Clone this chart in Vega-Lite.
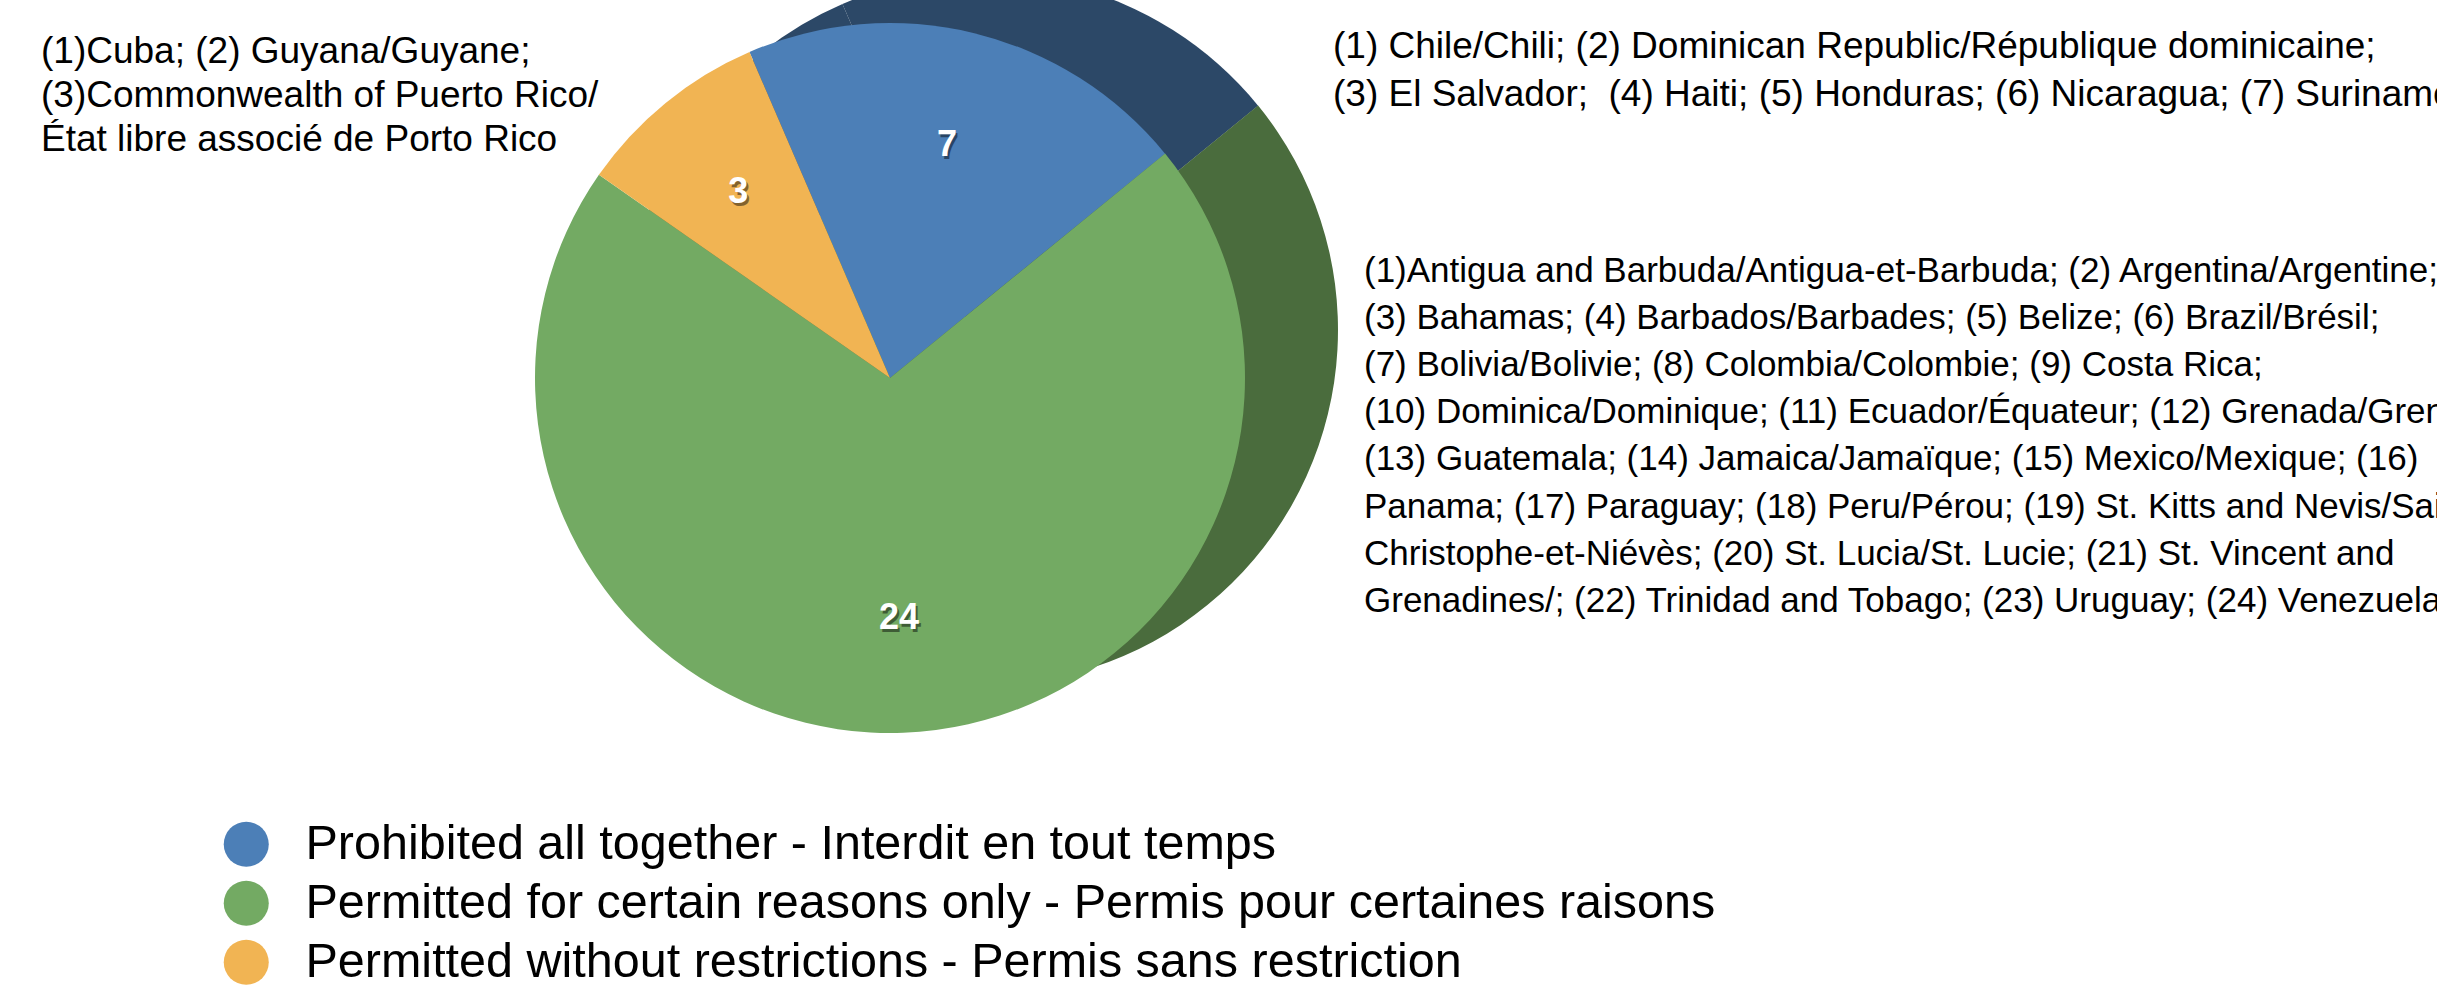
{
  "$schema": "https://vega.github.io/schema/vega-lite/v6.json",
  "background": "white",
  "padding": {"left": 41, "top": 0, "right": 0, "bottom": 0},
  "bounds": "flush",
  "spacing": 0,
  "config": {"view": {"stroke": null}, "font": "Liberation Sans"},
  "datasets": {
    "pie": [
      {"category": "Prohibited all together - Interdit en tout temps", "count": 7},
      {"category": "Permitted for certain reasons only - Permis pour certaines raisons", "count": 24},
      {"category": "Permitted without restrictions - Permis sans restriction", "count": 3}
    ],
    "left": [
      {"block": "left", "line": 0, "text": "(1)Cuba; (2) Guyana/Guyane;"},
      {"block": "left", "line": 1, "text": "(3)Commonwealth of Puerto Rico/"},
      {"block": "left", "line": 2, "text": "État libre associé de Porto Rico"}
    ],
    "topright": [
      {"block": "right", "line": 0, "text": "(1) Chile/Chili; (2) Dominican Republic/République dominicaine;"},
      {"block": "right", "line": 1, "text": "(3) El Salvador;\u00a0 (4) Haiti; (5) Honduras; (6) Nicaragua; (7) Suriname."}
    ],
    "midright": [
      {"block": "right", "line": 0, "text": "(1)Antigua and Barbuda/Antigua-et-Barbuda; (2) Argentina/Argentine;"},
      {"block": "right", "line": 1, "text": "(3) Bahamas; (4) Barbados/Barbades; (5) Belize; (6) Brazil/Brésil;"},
      {"block": "right", "line": 2, "text": "(7) Bolivia/Bolivie; (8) Colombia/Colombie; (9) Costa Rica;"},
      {"block": "right", "line": 3, "text": "(10) Dominica/Dominique; (11) Ecuador/Équateur; (12) Grenada/Grenade;"},
      {"block": "right", "line": 4, "text": "(13) Guatemala; (14) Jamaica/Jamaïque; (15) Mexico/Mexique; (16)"},
      {"block": "right", "line": 5, "text": "Panama; (17) Paraguay; (18) Peru/Pérou; (19) St. Kitts and Nevis/Saint-"},
      {"block": "right", "line": 6, "text": "Christophe-et-Niévès; (20) St. Lucia/St. Lucie; (21) St. Vincent and"},
      {"block": "right", "line": 7, "text": "Grenadines/; (22) Trinidad and Tobago; (23) Uruguay; (24) Venezuela."}
    ]
  },
  "hconcat": [
    {
      "width": 389,
      "height": 756,
      "data": {"name": "left"},
      "mark": {"type": "text", "align": "left", "baseline": "middle", "fontSize": 37, "font": "Liberation Sans", "color": "#000000"},
      "encoding": {
        "x": {"field": "block", "type": "nominal", "scale": {"type": "point", "padding": 0, "align": 0}, "axis": null},
        "y": {"field": "line", "type": "quantitative", "scale": {"domain": [-1.182, 16.0], "reverse": true, "nice": false, "zero": false}, "axis": null},
        "text": {"field": "text"}
      }
    },
    {
      "width": 920,
      "height": 756,
      "data": {"name": "pie"},
      "layer": [
        {
          "mark": {"type": "arc", "outerRadius": 355, "xOffset": 93, "yOffset": -48, "clip": true},
          "encoding": {
            "theta": {"field": "count", "type": "quantitative", "stack": true, "scale": {"range": [0.8866, 7.1698]}},
            "order": {"field": "category", "type": "ordinal", "sort": "ascending"},
            "color": {
              "field": "category", "type": "nominal",
              "scale": {
                "domain": ["Prohibited all together - Interdit en tout temps", "Permitted for certain reasons only - Permis pour certaines raisons", "Permitted without restrictions - Permis sans restriction"],
                "range": ["#2c4867", "#4a6c3d", "#2c4867"]
              },
              "legend": null
            }
          }
        },
        {
          "mark": {"type": "arc", "outerRadius": 355, "clip": true},
          "encoding": {
            "theta": {"field": "count", "type": "quantitative", "stack": true},
            "order": {"field": "category", "type": "ordinal", "sort": "ascending"},
            "color": {
              "field": "category", "type": "nominal",
              "scale": {
                "domain": ["Prohibited all together - Interdit en tout temps", "Permitted for certain reasons only - Permis pour certaines raisons", "Permitted without restrictions - Permis sans restriction"],
                "range": ["#4c7fb7", "#73aa63", "#f1b453"]
              },
              "legend": {
                "orient": "none", "legendX": -208, "legendY": 820, "title": null,
                "symbolType": "circle", "symbolSize": 2025, "symbolStrokeWidth": 0, "symbolOpacity": 1,
                "labelFontSize": 48.5, "labelFont": "Liberation Sans", "labelColor": "#000000", "labelLimit": 3000,
                "rowPadding": 10, "labelOffset": 35, "padding": 0
              }
            }
          }
        },
        {
          "mark": {"type": "text", "radius": 240, "dx": 2, "dy": 3, "fontSize": 36, "fontWeight": "bold", "font": "Liberation Sans", "fill": "#000000", "opacity": 0.45},
          "encoding": {
            "theta": {"field": "count", "type": "quantitative", "stack": true},
            "order": {"field": "category", "type": "ordinal", "sort": "ascending"},
            "text": {"field": "count", "type": "quantitative"}
          }
        },
        {
          "mark": {"type": "text", "radius": 240, "fontSize": 36, "fontWeight": "bold", "font": "Liberation Sans", "fill": "#ffffff"},
          "encoding": {
            "theta": {"field": "count", "type": "quantitative", "stack": true},
            "order": {"field": "category", "type": "ordinal", "sort": "ascending"},
            "text": {"field": "count", "type": "quantitative"}
          }
        }
      ],
      "resolve": {"scale": {"color": "independent"}}
    },
    {
      "width": 1087,
      "height": 756,
      "layer": [
        {
          "data": {"name": "topright"},
          "mark": {"type": "text", "align": "left", "baseline": "middle", "fontSize": 37, "font": "Liberation Sans", "color": "#000000", "dx": -17},
          "encoding": {
            "x": {"field": "block", "type": "nominal", "scale": {"type": "point", "padding": 0, "align": 0}, "axis": null},
            "y": {"field": "line", "type": "quantitative", "scale": {"domain": [-0.969, 14.619], "reverse": true, "nice": false, "zero": false}, "axis": null},
            "text": {"field": "text"}
          }
        },
        {
          "data": {"name": "midright"},
          "mark": {"type": "text", "align": "left", "baseline": "middle", "fontSize": 35, "font": "Liberation Sans", "color": "#000000", "dx": 14},
          "encoding": {
            "x": {"field": "block", "type": "nominal", "scale": {"type": "point", "padding": 0, "align": 0}, "axis": null},
            "y": {"field": "line", "type": "quantitative", "scale": {"domain": [-5.754, 10.297], "reverse": true, "nice": false, "zero": false}, "axis": null},
            "text": {"field": "text"}
          }
        }
      ],
      "resolve": {"scale": {"x": "independent", "y": "independent"}}
    }
  ]
}
